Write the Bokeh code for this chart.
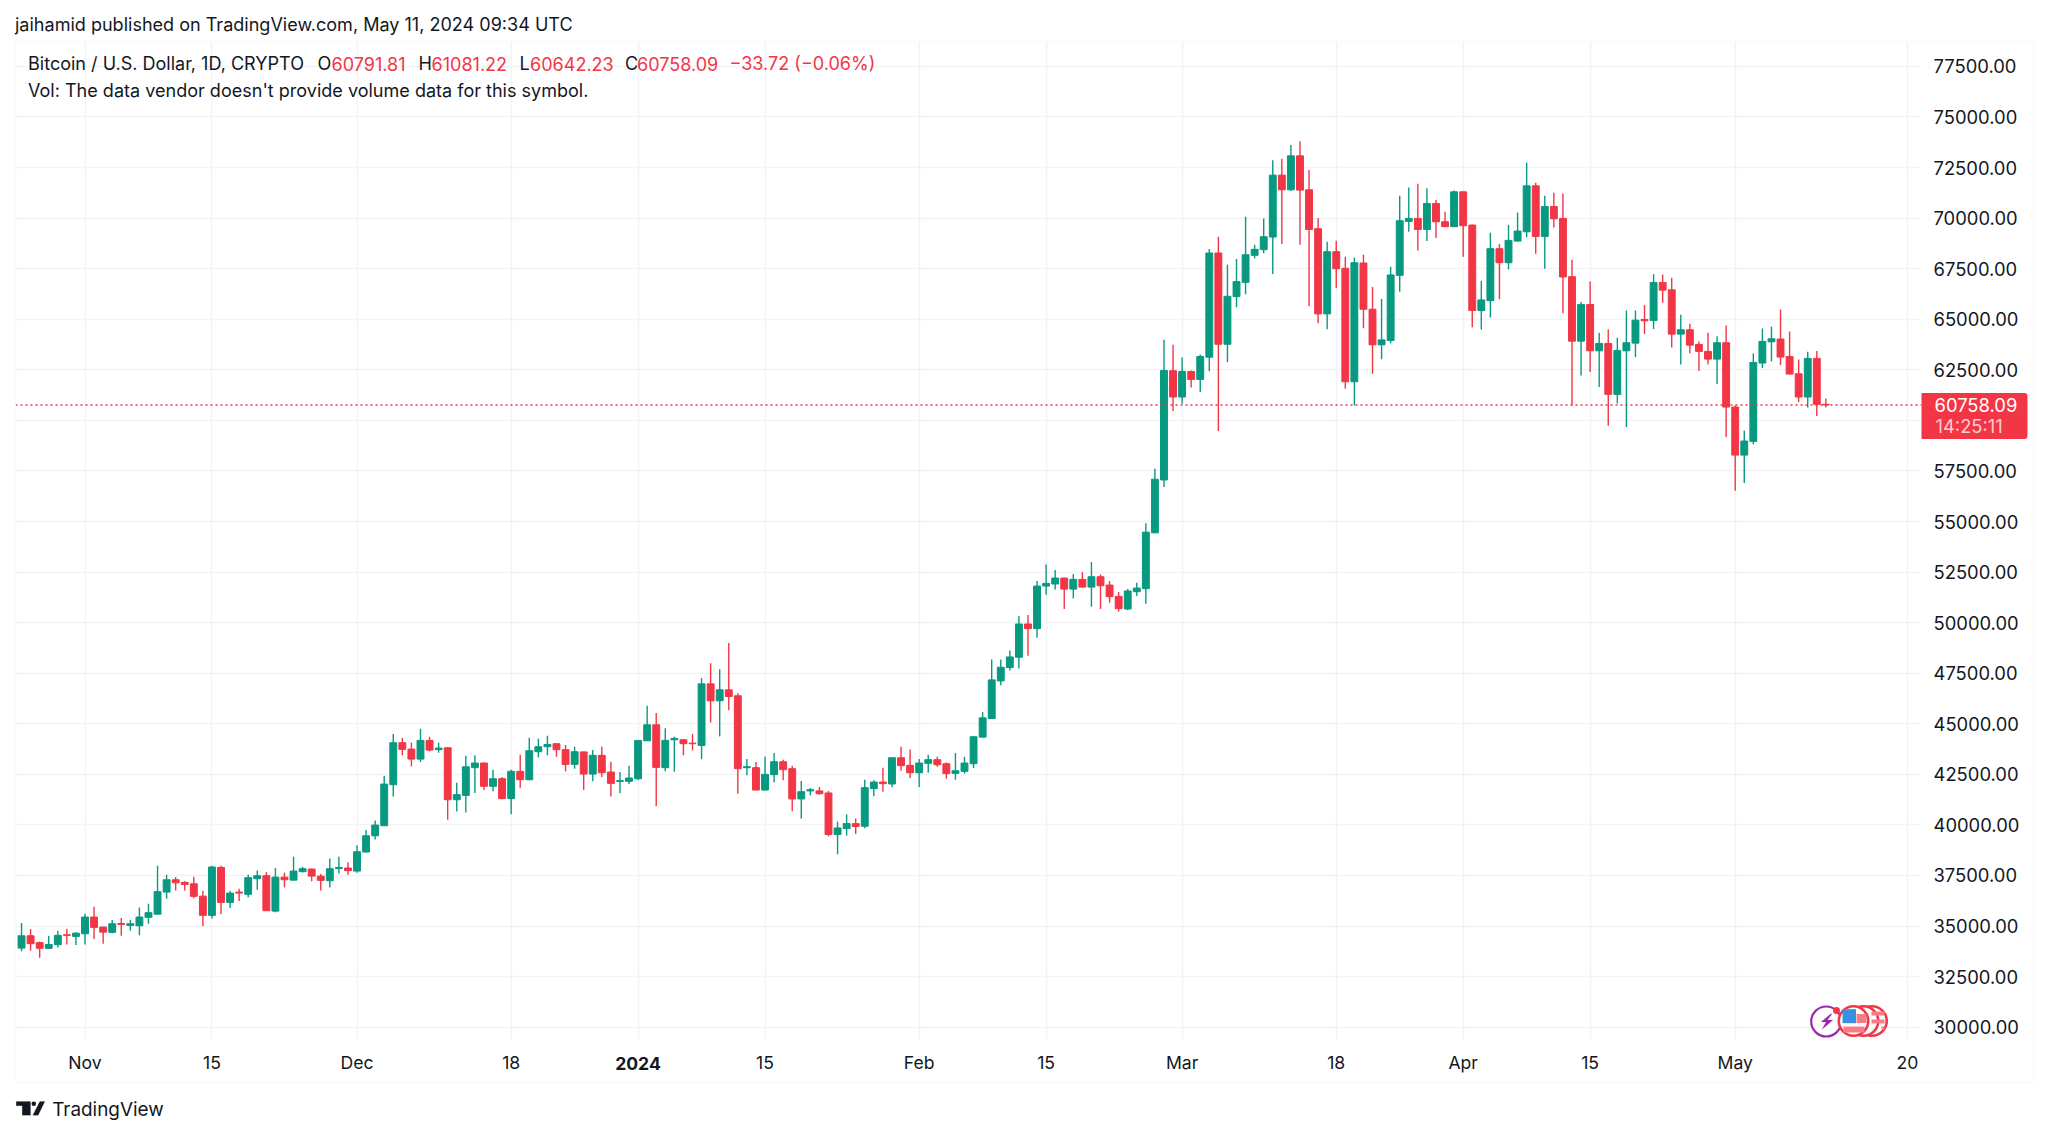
from bokeh.plotting import figure
from bokeh.layouts import column, row
from bokeh.models import (Range1d, LinearAxis, FixedTicker, Label, Span, BoxAnnotation,
                          PolyAnnotation, ColumnDataSource, NumeralTickFormatter)
from bokeh.embed import file_html
from bokeh.resources import INLINE

opens = [33910,34520,34180,33900,34080,34570,34490,34620,35445,34950,
 34690,35130,35030,35015,35430,35590,36680,37290,37160,37090,
 36480,35530,37900,36170,36680,36570,37340,37490,35740,37420,
 37270,37690,37820,37470,37240,37850,37870,37720,38660,39465,
 39960,41990,44065,43750,43255,44180,43720,43815,41245,41460,
 42830,43060,41910,42285,41300,42650,42235,43620,43865,44015,
 43720,42995,43610,42515,43440,42615,42155,42155,42285,44160,
 44950,42830,44210,44210,44045,43930,46975,46135,46680,46385,
 42830,42830,41725,42485,43125,42780,41285,41680,41680,41580,
 39525,39820,40065,39935,41795,42120,42025,43320,42945,42580,
 43045,43225,43025,42550,42650,43025,44340,45260,47120,47780,
 48290,49935,49705,51810,51910,52205,51660,52140,51760,52270,
 51860,51300,50675,51530,51680,54440,57055,62455,61155,62420,
 62025,63125,68275,63765,66120,66825,68160,68440,69065,72125,
 71400,73080,71400,69475,65265,68340,67520,61910,67780,65495,
 63735,63950,67170,69835,69985,69440,70725,69820,69575,71300,
 69655,65430,65920,68490,67795,68865,69325,71595,69095,70575,
 69985,67105,63915,65730,63440,63805,61285,63440,63820,64990,
 64940,66820,66455,64265,64480,63755,63410,63030,63840,60660,
 58285,58960,62835,63885,64020,63160,62305,61155,63065,60791.81]
closes = [34520,34130,33900,34090,34540,34540,34650,35445,34935,34700,
 35115,35080,35115,35445,35660,36700,37290,37140,37060,36470,
 35530,37920,36170,36630,36630,37390,37490,35760,37420,37290,
 37720,37835,37470,37260,37835,37900,37740,38675,39465,39995,
 42020,44065,43735,43255,44180,43700,43800,41245,41495,42875,
 43060,41910,42285,41300,42650,42235,43670,43865,43980,43720,
 42995,43620,42515,43440,42580,42055,42190,42320,44178,44950,
 42845,44180,44275,44015,44015,46975,46135,46680,46350,42780,
 42880,41725,42500,43125,42730,41285,41645,41745,41545,39525,
 39850,40065,39920,41840,42120,42040,43320,42930,42580,43060,
 43225,42975,42535,42680,43060,44360,45295,47170,47795,48305,
 49935,49705,51810,51940,52205,51660,52140,51760,52270,51825,
 51285,50690,51565,51710,54475,57090,62470,61155,62420,62025,
 63160,68275,63765,66135,66860,68190,68455,69080,72125,71400,
 73080,71385,69440,65265,68340,67500,61910,67795,65495,63735,
 63980,67190,69870,69985,69440,70725,69820,69575,71300,69625,
 65430,65955,68490,67795,68900,69360,71595,69095,70575,69970,
 67090,63915,65725,63440,63805,61285,63460,63840,64955,64925,
 66820,66440,64265,64480,63720,63410,63030,63840,60660,58285,
 58980,62865,63905,64035,63130,62290,61155,63065,60791.81,60758.09]
highs = [35150,34850,34240,34510,34770,34870,34700,35610,35960,34970,
 35300,35400,35300,35920,36100,37980,37540,37420,37210,37440,
 36750,37980,37980,36750,36850,37540,37750,37670,37870,37640,
 38430,37930,37835,37570,38345,38430,38160,38990,39750,40225,
 42430,44490,44310,44070,44755,44360,44065,43820,42085,43420,
 43440,43090,42730,42370,42730,43470,44310,44260,44410,44045,
 43950,43865,43620,43700,43865,43125,42615,42930,44190,45890,
 45530,44785,44360,44245,44505,47255,47995,47700,49000,46515,
 43255,43110,43370,43555,43225,42930,42170,41825,41875,41680,
 40165,40525,40315,42235,42205,42830,43325,43865,43735,43255,
 43470,43370,43090,43555,43370,44370,45575,48175,48175,48620,
 50330,50380,52055,52880,52600,52215,52400,52500,52995,52385,
 52055,51515,51660,51975,54920,57615,63985,63735,63110,62470,
 63255,68470,69080,67700,67980,70070,68685,69985,72865,72930,
 73620,73800,72385,70000,68835,68885,68095,68045,68190,66595,
 66005,67600,71105,71515,71695,71480,70890,70315,71365,71310,
 69690,66895,69280,68720,69655,70280,72750,71745,71105,71250,
 71220,67945,65855,66870,64330,64495,64085,65435,65435,65700,
 67230,67215,67050,65220,64775,63905,64330,64165,64695,60740,
 59505,63310,64545,64630,65485,64395,63015,63395,63425,61081.22]
lows = [33750,33780,33430,33890,33945,34090,34060,34090,34360,34130,
 34640,34520,34770,34540,35115,35580,36350,36760,36760,36370,
 35000,35380,35580,35890,36240,36420,36800,35750,35680,36910,
 37260,37650,37210,36760,36910,37600,37540,37640,38650,39285,
 39950,41410,43440,42895,43110,43635,43570,40255,40670,40620,
 41575,41725,41660,41265,40525,41840,42205,43340,43440,43370,
 42650,42780,41725,42155,42370,41400,41565,42025,42205,44150,
 40920,42650,42630,43440,43685,43255,45065,44375,45675,41545,
 42450,41720,41715,42105,42205,40675,40315,41465,41495,39440,
 38550,39475,39555,39835,41415,41645,41860,42680,42320,41875,
 42580,42880,42285,42235,42535,42810,44330,45250,46905,47630,
 47730,48370,49260,51380,51645,50675,51200,51725,50790,50675,
 50985,50545,50610,51315,50940,54430,56710,60460,60825,61630,
 61400,62435,59475,62880,65595,66235,68010,68260,67240,68720,
 71335,68685,65640,64805,64505,66530,61565,60740,64555,62305,
 63025,63815,66365,69325,68405,68865,69015,69565,69565,68095,
 64605,64490,65085,65990,67470,68835,69050,68240,67500,69540,
 65295,60740,62220,62390,61645,59735,60840,59670,63130,64265,
 64515,65815,63605,62765,63325,62440,62765,61795,59175,56525,
 56905,58815,62585,62915,62735,62280,60905,60640,60215,60642.23]

first_day = -7   # 25 Oct 2023, counted in days from 1 Nov 2023
days = [first_day + i for i in range(len(opens))]

tick_days = [0, 14, 30, 47, 61, 75, 92, 106, 121, 138, 152, 166, 182, 201]
tick_labels = ["Nov", "15", "Dec", "18", "", "15", "Feb", "15", "Mar", "18", "Apr", "15", "May", "20"]
price_ticks = [30000 + 2500 * i for i in range(20)]
last_price = 60758.09

GREEN = "#089981"
RED = "#f23645"
INK = "#131722"
GRID = "#f2f3f6"
FONT = "Inter"
W, H = 2040, 1127

PX_DAY = 9.067
PX_UNIT = 0.020227
def dx(px):
    return (px - 84.5) / PX_DAY
def dy(py):
    return 30000 + (1026.7 - py) / PX_UNIT

p = figure(width=W, height=H, output_backend="svg", toolbar_location=None,
           x_range=Range1d(dx(15), dx(1921)), y_range=Range1d(dy(1039), dy(41)),
           min_border_left=15, min_border_top=41, min_border_right=W - 1921, min_border_bottom=H - 1039,
           y_axis_location=None, x_axis_location=None)
p.outline_line_color = None

xaxis = LinearAxis(ticker=FixedTicker(ticks=tick_days),
                   major_label_overrides={d: t for d, t in zip(tick_days, tick_labels)},
                   major_tick_line_color=None, minor_tick_line_color=None, axis_line_color=None,
                   major_label_text_font=FONT, major_label_text_font_size="17.6px",
                   major_label_text_color=INK, major_label_standoff=6)
p.add_layout(xaxis, "below")
yaxis = LinearAxis(ticker=FixedTicker(ticks=price_ticks),
                   major_tick_line_color=None, minor_tick_line_color=None, axis_line_color=None,
                   major_label_text_font=FONT, major_label_text_font_size="18.4px",
                   major_label_text_color=INK, major_label_standoff=6,
                   formatter=NumeralTickFormatter(format="0.00"))
p.add_layout(yaxis, "right")

p.xgrid.ticker = FixedTicker(ticks=tick_days)
p.ygrid.ticker = FixedTicker(ticks=price_ticks)
for g in (p.xgrid, p.ygrid):
    g.grid_line_color = GRID
    g.grid_line_width = 1.5

colors = [GREEN if c >= o else RED for o, c in zip(opens, closes)]
src = ColumnDataSource(dict(day=days, o=opens, h=highs, l=lows, c=closes, color=colors,
                            top=[max(a, b) for a, b in zip(opens, closes)],
                            bot=[min(a, b) for a, b in zip(opens, closes)]))
p.segment("day", "h", "day", "l", source=src, line_color="color", line_width=1.4)
p.vbar("day", 0.76, "top", "bot", source=src, fill_color="color", line_color="color", line_width=1)

p.add_layout(Span(location=last_price, dimension="width", line_color=RED, line_width=1.4, line_dash="2 3"))

# event markers, in the price pane
p.scatter([dx(1825.7)], [dy(1021)], size=30, fill_color="#ffffff", line_color="#9c27b0", line_width=2.2)
p.scatter([dx(1871.5), dx(1863), dx(1853)], [dy(1020.5)] * 3, size=29.5, fill_color="#ffffff",
          line_color=RED, line_width=2.6)

# second, transparent figure in page pixels: header, footer, price tag
q = figure(width=W, height=H, output_backend="svg", toolbar_location=None,
           x_range=Range1d(0, W), y_range=Range1d(H, 0), min_border=0,
           x_axis_location=None, y_axis_location=None, background_fill_color=None,
           border_fill_color=None, margin=(-H, 0, 0, 0))
q.outline_line_color = None
q.grid.visible = False

q.add_layout(BoxAnnotation(left=15, right=2033, top=41, bottom=1082, fill_alpha=0,
                           line_color=GRID, line_width=2))
q.add_layout(BoxAnnotation(left=1921, right=2027, top=392.5, bottom=438.5,
                           fill_color=RED, fill_alpha=1, line_color=RED, line_width=0,
                           border_radius=dict(top_left=0, top_right=3, bottom_right=3, bottom_left=0)))

def lab(x, y, text, color=INK, size="18.05px", align="left", style="normal", alpha=1.0):
    q.add_layout(Label(x=x, y=y, text=text, text_font=FONT, text_font_size=size,
                       text_color=color, text_align=align, text_baseline="middle",
                       text_font_style=style, text_alpha=alpha))

lab(1934, 404, "60758.09", color="#ffffff", size="18.4px")
lab(1935, 425, "14:25:11", color="#ffffff", alpha=0.75, size="18.4px")
lab(637.5, 1063, "2024", align="center", style="bold", size="17.6px")

lab(14.5, 23.5, "jaihamid published on TradingView.com, May 11, 2024 09:34 UTC")
lab(27.5, 63, "Bitcoin / U.S. Dollar, 1D, CRYPTO")
lab(317, 63, "O")
lab(331, 63, "60791.81", color=RED)
lab(418, 63, "H")
lab(431, 63, "61081.22", color=RED)
lab(519, 63, "L")
lab(529.5, 63, "60642.23", color=RED)
lab(624.6, 63, "C")
lab(636.5, 63, "60758.09", color=RED)
lab(729, 63, "\u221233.72 (\u22120.06%)", color=RED)
lab(27.5, 90, "Vol: The data vendor doesn't provide volume data for this symbol.")
lab(51.7, 1109, "TradingView", size="18.9px")

def poly(points, color):
    q.add_layout(PolyAnnotation(xs=[a for a, _ in points], ys=[b for _, b in points],
                                fill_color=color, fill_alpha=1, line_color=color, line_width=0.5))

# TradingView logo
poly([(15.7,1101),(30,1101),(30,1114.7),(21.7,1114.7),(21.7,1105.3),(15.7,1105.3)], INK)
poly([(39.3,1101),(44.3,1101),(37.7,1114.7),(32.3,1114.7)], INK)
q.scatter([33.3], [1103.3], size=4.6, fill_color=INK, line_color=None)

# details of the event markers
poly([(1830,1013.5),(1820.5,1021.5),(1825.5,1021.5),(1821.5,1029),(1832.5,1019.5),(1827,1019.5),(1831.5,1013.5)], "#9c27b0")
q.quad(left=[1871, 1871, 1881, 1856, 1843], right=[1884, 1884, 1884, 1866, 1864],
       top=[1011, 1019, 1026, 1013.5, 1026], bottom=[1015, 1023, 1029, 1022.5, 1032],
       fill_color="#f77c85", line_color=None)
q.quad(left=[1842], right=[1855.5], top=[1008.7], bottom=[1022.7], fill_color="#3a8fe0", line_color=None)
q.scatter([1836], [1010], size=7, fill_color=RED, line_color=None)

open("out.html", "w").write(file_html(column(row(p), q), INLINE))
